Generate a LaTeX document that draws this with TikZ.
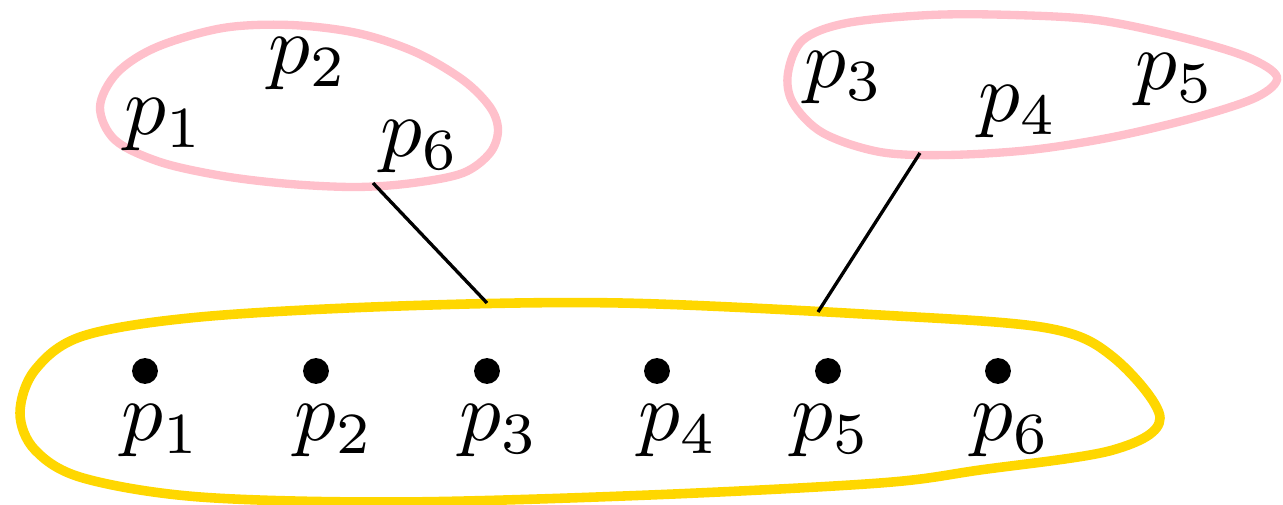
\documentclass[tikz,border=0pt]{standalone}
\definecolor{setpink}{RGB}{255,192,203}
\definecolor{setgold}{RGB}{255,215,0}
\begin{document}
\begin{tikzpicture}[x=0.12pt,y=-0.12pt,
  pinkset/.style={draw=setpink,line width=1.0pt},
  goldset/.style={draw=setgold,line width=1.15pt},
  dot/.style={circle,fill=black,inner sep=0pt,minimum size=3.1pt},
  lbl/.style={inner sep=0pt},
  link/.style={draw=black,line width=0.4pt}]
\useasboundingbox (0,0) rectangle (1283,505);
% gold set
\draw[goldset] plot[smooth cycle,tension=0.55] coordinates {
  (20,413) (35,370) (83,336) (200,317) (400,306) (620,303) (880,315) (1047,328)
  (1113,357) (1160,418) (1113,450) (980,470) (880,483) (650,495) (400,502)
  (200,497) (83,478) (35,450)};
% pink set 1
\draw[pinkset] plot[smooth cycle,tension=0.55] coordinates {
  (100,107) (117,73) (157,47) (223,28) (290,25) (357,33) (415,52) (463,80)
  (490,107) (498,130) (490,153) (463,173) (413,183) (357,187) (290,184)
  (223,176) (160,162) (115,140)};
% pink set 2
\draw[pinkset] plot[smooth cycle,tension=0.55] coordinates {
  (788,73) (803,40) (847,23) (930,15) (1013,15) (1097,20) (1180,37) (1247,57)
  (1277,77) (1257,97) (1197,117) (1113,137) (1030,150) (947,155) (880,152)
  (823,133) (793,103)};
% dots and labels
\foreach \i/\x/\lx in {1/145/161,2/316/334,3/487/499,4/657/678,5/828/831,6/998/1011}{
  \node[dot] (d\i) at (\x,371) {};
  \node[lbl] (l\i) at (\lx,431) {$p_\i$};
}
% labels in the pink sets
\node[lbl] (a2) at (308,64) {$p_2$};
\node[lbl] (a1) at (164,125) {$p_1$};
\node[lbl] (a6) at (420,147) {$p_6$};
\node[lbl] (b3) at (844,78) {$p_3$};
\node[lbl] (b4) at (1018,112) {$p_4$};
\node[lbl] (b5) at (1175,80) {$p_5$};
% connectors
\coordinate (sA) at (373,183);
\coordinate (gA) at (487,303);
\coordinate (sB) at (920,153);
\coordinate (gB) at (818,312);
\draw[link] (sA) -- (gA);
\draw[link] (sB) -- (gB);
\end{tikzpicture}
\end{document}
